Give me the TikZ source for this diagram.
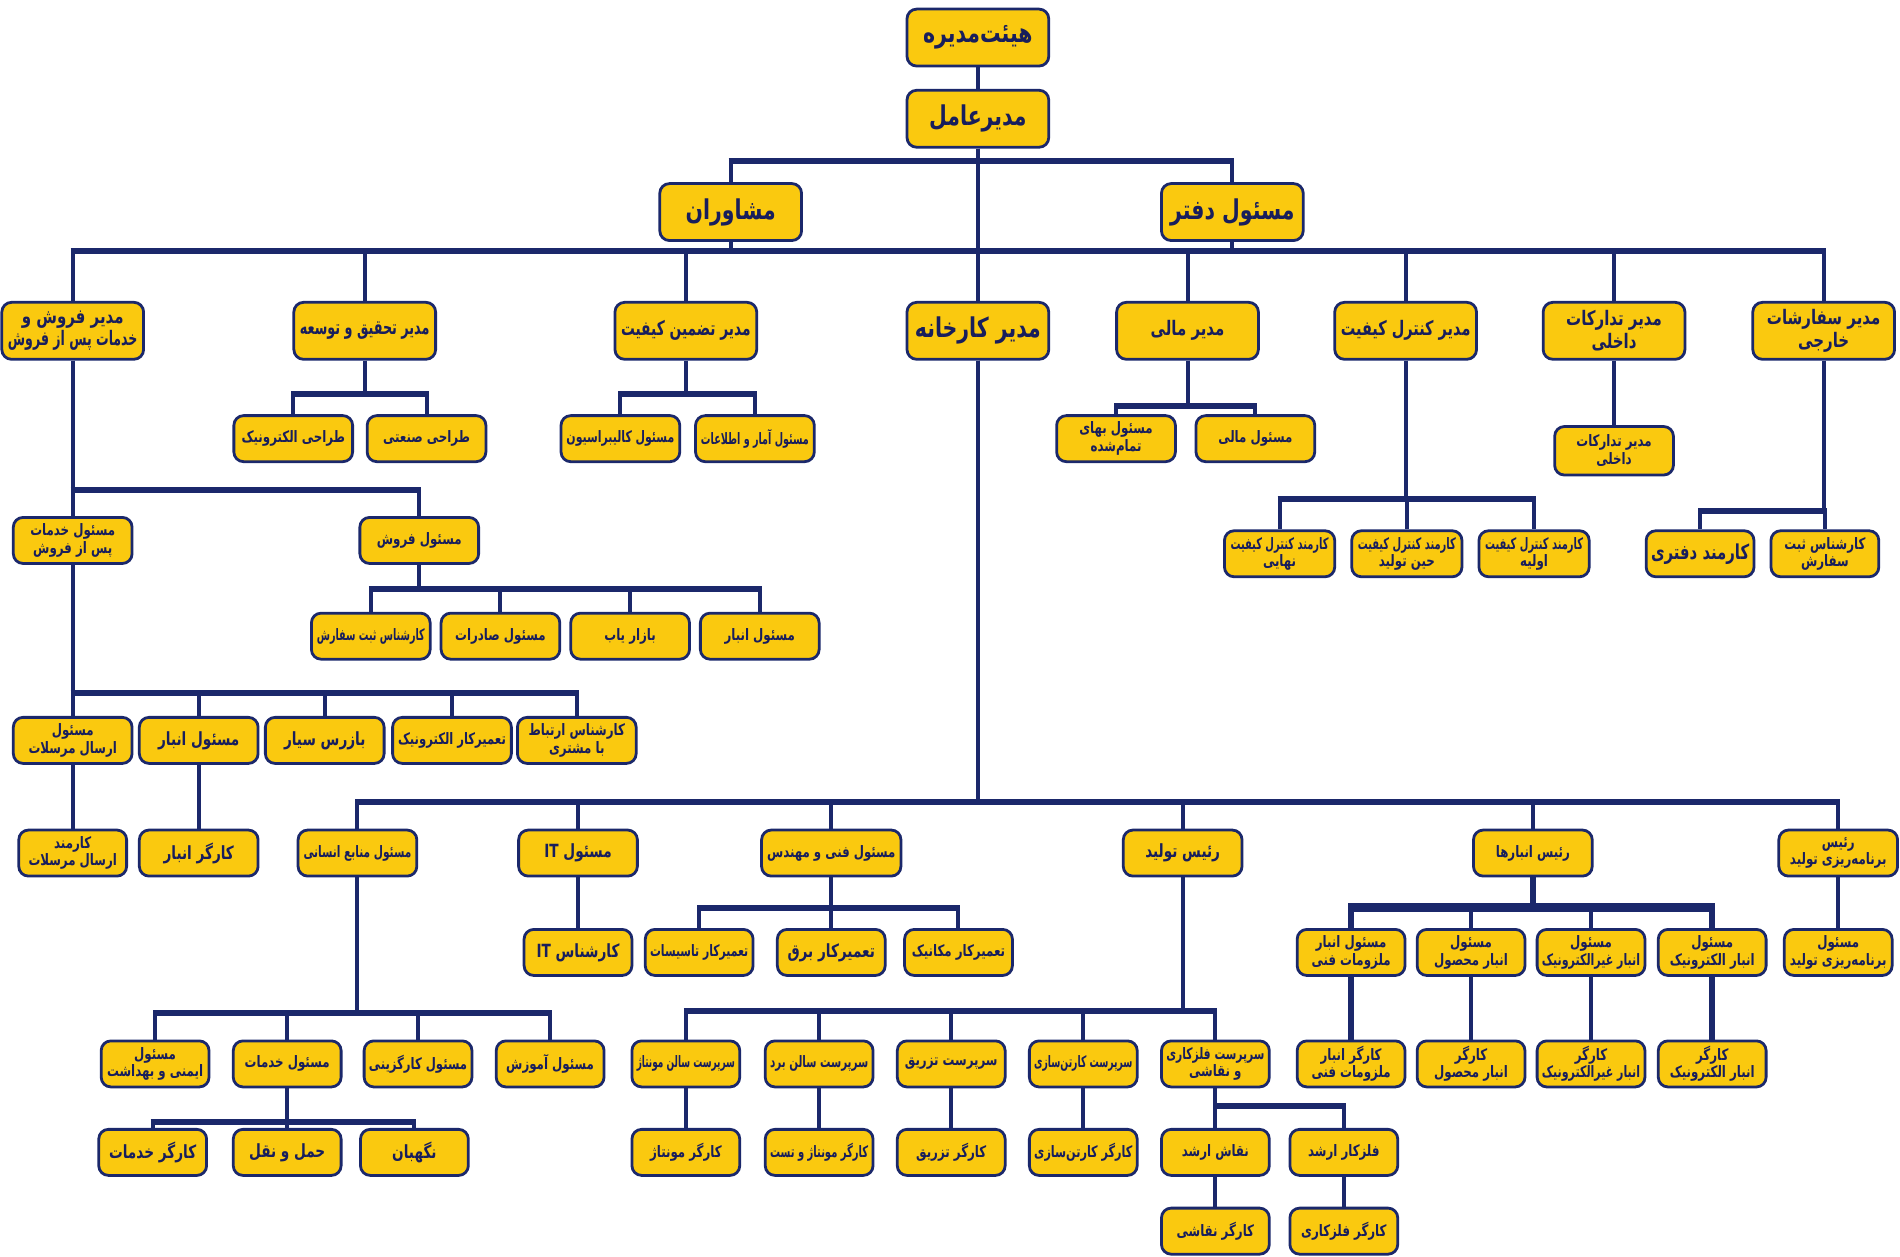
\documentclass[tikz,border=0pt]{standalone}
\usepackage{fontspec}
\usepackage{graphicx}
\TeXXeTstate=1
\newfontfamily\fa[Script=Arabic,FakeStretch=0.75]{DejaVu Sans}
\definecolor{navy}{RGB}{27,40,107}
\definecolor{gold}{RGB}{250,201,15}
\definecolor{ink}{RGB}{24,30,92}
\newcommand\chBig{\fa\bfseries\fontsize{22.5}{26}\selectfont}
\newcommand\chMid{\fa\bfseries\fontsize{16.5}{18.5}\selectfont}
\newcommand\chSm{\fa\bfseries\fontsize{13}{14.5}\selectfont}
\newcommand\chSmb{\fa\bfseries\fontsize{15}{17}\selectfont}
\newsavebox\fitbx
\newdimen\fitd
\def\fitw{88pt}
\newcommand\fitto[2]{\sbox\fitbx{#2}\fitd=\wd\fitbx\relax\ifdim\fitd>#1\relax\pgfmathsetmacro\fitf{#1/\fitd}\scalebox{\fitf}[1]{\usebox\fitbx}\else\usebox\fitbx\fi}
\newcommand\RT[1]{\fitto{\fitw}{\beginR #1\endR}}
\pgfdeclarelayer{bg}
\pgfsetlayers{bg,main}
\tikzset{
  bx/.style={draw=navy, fill=gold, line width=2.3pt, rounded corners=8pt, inner sep=0pt, align=center, text=ink, font=\chSm},
  bigbox/.style={bx, minimum width=117pt, minimum height=47pt, font=\chBig, execute at begin node={\gdef\fitw{104pt}}},
  midbox/.style={bx, minimum width=117pt, minimum height=47pt, font=\chMid, execute at begin node={\gdef\fitw{107pt}}},
  smbox/.style={bx, minimum width=98pt, minimum height=38pt, execute at begin node={\gdef\fitw{89pt}}},
  tnbox/.style={bx, minimum width=89pt, minimum height=38pt, execute at begin node={\gdef\fitw{81pt}}},
  bt/.style={font=\chSmb},
  vl/.style={draw=navy, line width=3.3pt},
  vlt/.style={draw=navy, line width=5pt},
  hl/.style={draw=navy, line width=5pt, shorten <=-1.65pt, shorten >=-1.65pt},
  hlt/.style={draw=navy, line width=7pt, shorten <=-2.5pt, shorten >=-2.5pt},
}
\newcommand\kids[3]{\foreach \kid in {#3}{\draw[vl] (#1.south) -- (#1.south |- 0,#2) -| (\kid.north);}}
\newcommand\hbus[3]{\draw[hl] (#1.north |- 0,#3) -- (#2.north |- 0,#3);}
\begin{document}
\begin{tikzpicture}[x=1pt,y=-1pt]
\useasboundingbox (0,0) rectangle (1568,1037);
% top levels
\node[bigbox] (n0) at (807,31) {\RT{هیئت^^^^200cمدیره}};
\node[bigbox] (n1) at (807,98) {\RT{مدیرعامل}};
\node[bigbox] (mosh) at (603,175) {\RT{مشاوران}};
\node[bigbox] (daft) at (1017,175) {\RT{مسئول دفتر}};
% level 2
\node[midbox] (sal) at (60,273) {\RT{مدیر فروش و}\\\RT{خدمات پس از فروش}};
\node[midbox] (rd) at (301,273) {\RT{مدیر تحقیق و توسعه}};
\node[midbox] (qa) at (566,273) {\RT{مدیر تضمین کیفیت}};
\node[bigbox] (fac) at (807,273) {\RT{مدیر کارخانه}};
\node[midbox] (fin) at (980,273) {\RT{مدیر مالی}};
\node[midbox] (qc) at (1160,273) {\RT{مدیر کنترل کیفیت}};
\node[midbox] (log) at (1332,273) {\RT{مدیر تدارکات}\\\RT{داخلی}};
\node[midbox] (ord) at (1505,273) {\RT{مدیر سفارشات}\\\RT{خارجی}};
% level 3
\node[smbox] (rd1) at (242,362) {\RT{طراحی الکترونیک}};
\node[smbox] (rd2) at (352,362) {\RT{طراحی صنعتی}};
\node[smbox] (qa1) at (512,362) {\RT{مسئول کالیبراسیون}};
\node[smbox] (qa2) at (623,362) {\RT{مسئول آمار و اطلاعات}};
\node[smbox] (fin1) at (921,362) {\RT{مسئول بهای}\\\RT{تمام^^^^200cشده}};
\node[smbox] (fin2) at (1036,362) {\RT{مسئول مالی}};
\node[smbox, minimum height=40pt] (log1) at (1332,372) {\RT{مدیر تدارکات}\\\RT{داخلی}};
\node[tnbox, minimum width=91pt] (qc1) at (1056,457) {\RT{کارمند کنترل کیفیت}\\\RT{نهایی}};
\node[tnbox, minimum width=91pt] (qc2) at (1161,457) {\RT{کارمند کنترل کیفیت}\\\RT{حین تولید}};
\node[tnbox, minimum width=91pt] (qc3) at (1266,457) {\RT{کارمند کنترل کیفیت}\\\RT{اولیه}};
\node[tnbox, font=\fa\bfseries\fontsize{17}{19}\selectfont] (ord1) at (1403,457) {\RT{کارمند دفتری}};
\node[tnbox] (ord2) at (1506,457) {\RT{کارشناس ثبت}\\\RT{سفارش}};
% sales subtree
\node[smbox] (as) at (60,446) {\RT{مسئول خدمات}\\\RT{پس از فروش}};
\node[smbox] (sf) at (346,446) {\RT{مسئول فروش}};
\node[smbox] (sf1) at (306,525) {\RT{کارشناس ثبت سفارش}};
\node[smbox] (sf2) at (413,525) {\RT{مسئول صادرات}};
\node[smbox] (sf3) at (520,525) {\RT{بازار یاب}};
\node[smbox] (sf4) at (627,525) {\RT{مسئول انبار}};
\node[smbox] (as1) at (60,611) {\RT{مسئول}\\\RT{ارسال مرسلات}};
\node[smbox, bt] (as2) at (164,611) {\RT{مسئول انبار}};
\node[smbox, bt] (as3) at (268,611) {\RT{بازرس سیار}};
\node[smbox] (as4) at (373,611) {\RT{تعمیرکار الکترونیک}};
\node[smbox] (as5) at (476,611) {\RT{کارشناس ارتباط}\\\RT{با مشتری}};
\node[tnbox] (as1a) at (60,704) {\RT{کارمند}\\\RT{ارسال مرسلات}};
\node[smbox, bt] (as2a) at (164,704) {\RT{کارگر انبار}};
% factory subtree
\node[smbox] (hr) at (295,704) {\RT{مسئول منابع انسانی}};
\node[smbox, bt] (it) at (477,704) {\RT{مسئول \beginL IT\endL}};
\node[smbox, minimum width=115pt, execute at begin node={\gdef\fitw{106pt}}] (eng) at (686,704) {\RT{مسئول فنی و مهندس}};
\node[smbox, bt] (prod) at (976,704) {\RT{رئیس تولید}};
\node[smbox] (wh) at (1265,704) {\RT{رئیس انبارها}};
\node[smbox] (pl) at (1517,704) {\RT{رئیس}\\\RT{برنامه^^^^200cریزی تولید}};
\node[tnbox, bt] (it1) at (477,786) {\RT{کارشناس \beginL IT\endL}};
\node[tnbox] (eng1) at (577,786) {\RT{تعمیرکار تاسیسات}};
\node[tnbox, bt] (eng2) at (686,786) {\RT{تعمیرکار برق}};
\node[tnbox] (eng3) at (791,786) {\RT{تعمیرکار مکانیک}};
\node[tnbox] (hr1) at (128,878) {\RT{مسئول}\\\RT{ایمنی و بهداشت}};
\node[tnbox] (hr2) at (237,878) {\RT{مسئول خدمات}};
\node[tnbox] (hr3) at (345,878) {\RT{مسئول کارگزینی}};
\node[tnbox] (hr4) at (454,878) {\RT{مسئول آموزش}};
\node[tnbox, bt] (hr2a) at (126,951) {\RT{کارگر خدمات}};
\node[tnbox, bt] (hr2b) at (237,951) {\RT{حمل و نقل}};
\node[tnbox, bt] (hr2c) at (342,951) {\RT{نگهبان}};
\node[tnbox] (pr1) at (566,878) {\RT{سرپرست سالن مونتاژ}};
\node[tnbox] (pr2) at (676,878) {\RT{سرپرست سالن برد}};
\node[tnbox] (pr3) at (785,878) {\RT{سرپرست تزریق}};
\node[tnbox] (pr4) at (894,878) {\RT{سرپرست کارتن^^^^200cسازی}};
\node[tnbox] (pr5) at (1003,878) {\RT{سرپرست فلزکاری}\\\RT{و نقاشی}};
\node[tnbox] (pr1a) at (566,951) {\RT{کارگر مونتاژ}};
\node[tnbox] (pr2a) at (676,951) {\RT{کارگر مونتاژ و تست}};
\node[tnbox] (pr3a) at (785,951) {\RT{کارگر تزریق}};
\node[tnbox] (pr4a) at (894,951) {\RT{کارگر کارتن^^^^200cسازی}};
\node[tnbox] (pr5a) at (1003,951) {\RT{نقاش ارشد}};
\node[tnbox] (pr5b) at (1109,951) {\RT{فلزکار ارشد}};
\node[tnbox] (pr5c) at (1003,1016) {\RT{کارگر نقاشی}};
\node[tnbox] (pr5d) at (1109,1016) {\RT{کارگر فلزکاری}};
\node[tnbox] (wh1) at (1115,786) {\RT{مسئول انبار}\\\RT{ملزومات فنی}};
\node[tnbox] (wh2) at (1214,786) {\RT{مسئول}\\\RT{انبار محصول}};
\node[tnbox] (wh3) at (1313,786) {\RT{مسئول}\\\RT{انبار غیرالکترونیک}};
\node[tnbox] (wh4) at (1413,786) {\RT{مسئول}\\\RT{انبار الکترونیک}};
\node[tnbox] (wh1a) at (1115,878) {\RT{کارگر انبار}\\\RT{ملزومات فنی}};
\node[tnbox] (wh2a) at (1214,878) {\RT{کارگر}\\\RT{انبار محصول}};
\node[tnbox] (wh3a) at (1313,878) {\RT{کارگر}\\\RT{انبار غیرالکترونیک}};
\node[tnbox] (wh4a) at (1413,878) {\RT{کارگر}\\\RT{انبار الکترونیک}};
\node[tnbox] (pl1) at (1517,786) {\RT{مسئول}\\\RT{برنامه^^^^200cریزی تولید}};
% connectors
\begin{pgfonlayer}{bg}
\fill[white] (0,0) rectangle (1568,1037);
\draw[vl] (n0.south) -- (n1.north);
\draw[vl] (n1.south) -- (fac.north);
\kids{n1}{133}{mosh,daft}
\hbus{mosh}{daft}{133}
\kids{mosh}{207}{sal,rd,qa}
\kids{daft}{207}{fin,qc,log,ord}
\hbus{sal}{ord}{207}
\kids{rd}{325}{rd1,rd2}
\hbus{rd1}{rd2}{325}
\kids{qa}{325}{qa1,qa2}
\hbus{qa1}{qa2}{325}
\kids{fin}{335}{fin1,fin2}
\hbus{fin1}{fin2}{335}
\draw[vl] (log.south) -- (log1.north);
\kids{qc}{412}{qc1,qc2,qc3}
\hbus{qc1}{qc3}{412}
\kids{ord}{422}{ord1,ord2}
\hbus{ord1}{ord2}{422}
\kids{sal}{404}{as,sf}
\hbus{as}{sf}{404}
\kids{sf}{486}{sf1,sf2,sf3,sf4}
\hbus{sf1}{sf4}{486}
\kids{as}{572}{as1,as2,as3,as4,as5}
\hbus{as1}{as5}{572}
\draw[vl] (as1.south) -- (as1a.north);
\draw[vl] (as2.south) -- (as2a.north);
\kids{fac}{662}{hr,it,eng,prod,wh,pl}
\hbus{hr}{pl}{662}
\draw[vl] (it.south) -- (it1.north);
\kids{eng}{749}{eng1,eng2,eng3}
\hbus{eng1}{eng3}{749}
\kids{hr}{836}{hr1,hr2,hr3,hr4}
\hbus{hr1}{hr4}{836}
\kids{hr2}{926}{hr2a,hr2b,hr2c}
\hbus{hr2a}{hr2c}{926}
\kids{prod}{834}{pr1,pr2,pr3,pr4,pr5}
\hbus{pr1}{pr5}{834}
\draw[vl] (pr1.south) -- (pr1a.north);
\draw[vl] (pr2.south) -- (pr2a.north);
\draw[vl] (pr3.south) -- (pr3a.north);
\draw[vl] (pr4.south) -- (pr4a.north);
\kids{pr5}{913}{pr5a,pr5b}
\hbus{pr5a}{pr5b}{913}
\draw[vl] (pr5a.south) -- (pr5c.north);
\draw[vl] (pr5b.south) -- (pr5d.north);
\kids{wh}{749}{wh2,wh3}
\draw[vlt] (wh.south) -- (wh.south |- 0,749) -| (wh1.north);
\draw[vlt] (wh.south |- 0,749) -| (wh4.north);
\draw[hlt] (wh1.north |- 0,749) -- (wh4.north |- 0,749);
\draw[vlt] (wh1.south) -- (wh1a.north);
\draw[vl] (wh2.south) -- (wh2a.north);
\draw[vl] (wh3.south) -- (wh3a.north);
\draw[vlt] (wh4.south) -- (wh4a.north);
\draw[vl] (pl.south) -- (pl1.north);
\end{pgfonlayer}
\end{tikzpicture}
\end{document}
